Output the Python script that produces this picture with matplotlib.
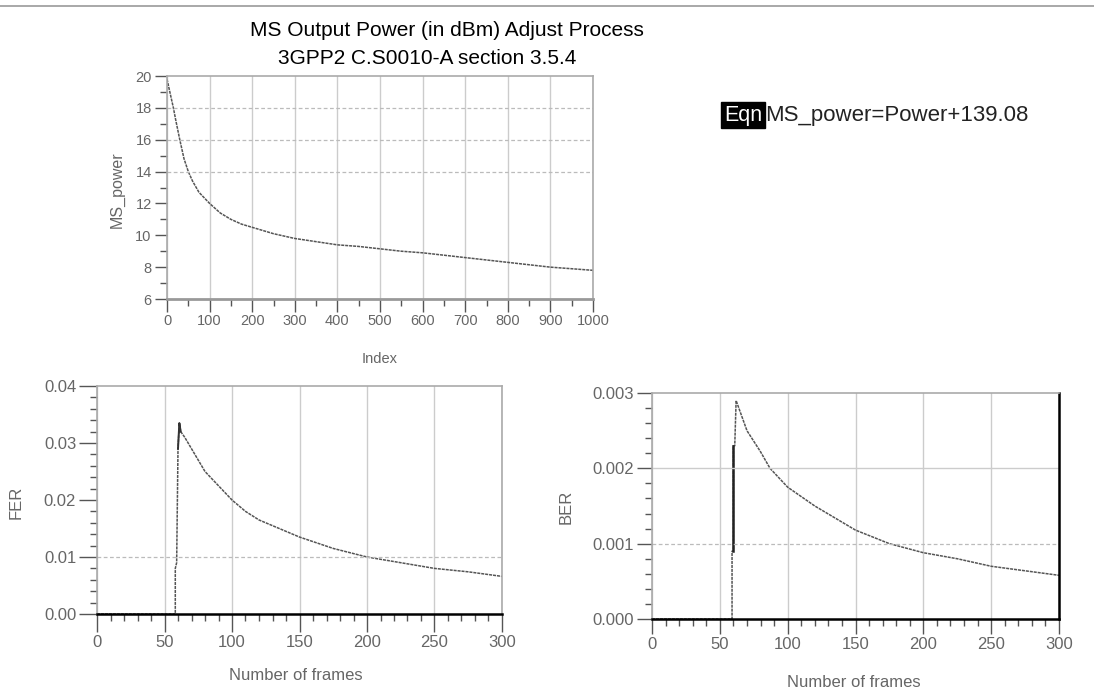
import numpy as np
import matplotlib
matplotlib.use("Agg")
import matplotlib.pyplot as plt
from matplotlib.ticker import MultipleLocator, FormatStrFormatter

plt.rcParams["font.family"] = ["Liberation Sans", "DejaVu Sans"]

# MS power vs index
idx = [0, 5, 10, 15, 20, 30, 40, 50, 60, 75, 100, 125, 150, 175, 200, 250, 300,
       350, 400, 450, 500, 550, 600, 650, 700, 750, 800, 850, 900, 950, 1000]
ms_power = [19.8, 19.2, 18.6, 18.0, 17.3, 16.0, 14.8, 14.0, 13.4, 12.7, 12.0, 11.4,
            11.0, 10.7, 10.5, 10.1, 9.8, 9.6, 9.4, 9.3, 9.15, 9.0, 8.9, 8.75, 8.6,
            8.45, 8.3, 8.15, 8.0, 7.9, 7.8]

# FER vs number of frames
fer_frames = [0, 58, 58, 59, 60, 61, 62, 65, 70, 80, 90, 100, 110, 120, 135,
              150, 175, 200, 225, 250, 275, 300]
fer = [0, 0, 0.008, 0.009, 0.029, 0.0335, 0.032, 0.031, 0.029, 0.025, 0.0225, 0.020,
       0.018, 0.0165, 0.015, 0.0135, 0.0115, 0.010, 0.009, 0.008, 0.0074, 0.0066]

# BER vs number of frames
ber_frames = [0, 59, 59, 60, 60, 61, 62, 70, 80, 87, 100, 120, 150, 175, 200,
              225, 250, 275, 300]
ber = [0, 0, 0.0009, 0.0009, 0.0023, 0.0023, 0.0029, 0.0025, 0.00222, 0.002,
       0.00175, 0.0015, 0.00118, 0.001, 0.00088, 0.0008, 0.0007, 0.00064, 0.00058]

W, H = 1094, 693
fig = plt.figure(figsize=(W / 100, H / 100), dpi=100)
fig.patch.set_facecolor("white")

TXT = "#666666"
LINE = "#555555"
DOTS = (0, (2, 0.6))


def box(l, t, r, b):
    return [l / W, 1 - b / H, (r - l) / W, (b - t) / H]


def fx(px):
    return px / W


def fy(py):
    return 1 - py / H


def style(ax, xmajor, xminor, yminor, size, tlen):
    for s in ax.spines.values():
        s.set_color("#aaaaaa")
        s.set_linewidth(1.2)
    ax.xaxis.set_major_locator(MultipleLocator(xmajor))
    ax.xaxis.set_minor_locator(MultipleLocator(xminor))
    ax.yaxis.set_minor_locator(MultipleLocator(yminor))
    ax.tick_params(axis="both", which="major", direction="out", length=tlen,
                   width=1.0, color="#555555", labelsize=size, labelcolor=TXT, pad=2)
    ax.tick_params(axis="both", which="minor", direction="out", length=5,
                   width=1.0, color="#555555")
    ax.grid(True, axis="x", color="#cccccc", linewidth=1.0)


# top chart
ax1 = fig.add_axes(box(167, 76, 593, 299))
ax1.plot(idx, ms_power, color=LINE, linewidth=1.1, linestyle=DOTS)
ax1.set_xlim(0, 1000)
ax1.set_ylim(6, 20)
ax1.yaxis.set_major_locator(MultipleLocator(2))
style(ax1, 100, 50, 1, 10.5, 9)
for y in [14, 16, 18]:
    ax1.axhline(y, color="#bbbbbb", linewidth=0.9, linestyle=(0, (3, 2)))
ax1.spines["bottom"].set_color("#999999")
ax1.spines["bottom"].set_linewidth(2)
ax1.set_xlabel("Index", color=TXT, fontsize=10.5)
ax1.set_ylabel("MS_power", color=TXT, fontsize=11.5)
ax1.xaxis.set_label_coords(fx(380), fy(352), transform=fig.transFigure)
ax1.yaxis.set_label_coords(fx(125), fy(190), transform=fig.transFigure)

fig.text(fx(447), fy(30), "MS Output Power (in dBm) Adjust Process",
         ha="center", va="center", fontsize=15)
fig.text(fx(427), fy(59), "3GPP2 C.S0010-A section 3.5.4",
         ha="center", va="center", fontsize=15)
fig.add_artist(plt.Line2D([0, 1], [fy(6), fy(6)], color="#999999",
                          linewidth=1.2, transform=fig.transFigure))

# equation label
fig.text(fx(724), fy(115), "Eqn", ha="left", va="center", fontsize=15.5,
         color="white",
         bbox=dict(boxstyle="square,pad=0.12", facecolor="black", edgecolor="black"))
fig.text(fx(765), fy(115), "MS_power=Power+139.08", ha="left", va="center",
         fontsize=16, color="#222222")

# FER
ax2 = fig.add_axes(box(97, 386, 502, 614))
ax2.plot(fer_frames, fer, color=LINE, linewidth=1.1, linestyle=DOTS)
ax2.plot(fer_frames[4:7], fer[4:7], color="#333333", linewidth=1.4)
ax2.set_xlim(0, 300)
ax2.set_ylim(0, 0.04)
ax2.yaxis.set_major_locator(MultipleLocator(0.01))
ax2.yaxis.set_major_formatter(FormatStrFormatter("%.2f"))
style(ax2, 50, 10, 0.002, 12, 13)
ax2.axhline(0.01, color="#bbbbbb", linewidth=0.9, linestyle=(0, (3, 2)))
ax2.spines["bottom"].set_color("black")
ax2.spines["bottom"].set_linewidth(1.8)
ax2.set_xlabel("Number of frames", color=TXT, fontsize=12)
ax2.set_ylabel("FER", color=TXT, fontsize=12)
ax2.xaxis.set_label_coords(fx(296), fy(668), transform=fig.transFigure)
ax2.yaxis.set_label_coords(fx(24), fy(502), transform=fig.transFigure)

# BER
ax3 = fig.add_axes(box(652, 393, 1059, 619))
ax3.plot(ber_frames, ber, color=LINE, linewidth=1.1, linestyle=DOTS)
ax3.plot(ber_frames[3:5], ber[3:5], color="#222222", linewidth=1.8)
ax3.set_xlim(0, 300)
ax3.set_ylim(0, 0.003)
ax3.yaxis.set_major_locator(MultipleLocator(0.001))
ax3.yaxis.set_major_formatter(FormatStrFormatter("%.3f"))
style(ax3, 50, 10, 0.0002, 12, 11)
ax3.axhline(0.002, color="#cccccc", linewidth=1.0)
ax3.axhline(0.001, color="#bbbbbb", linewidth=0.9, linestyle=(0, (3, 2)))
ax3.spines["bottom"].set_color("black")
ax3.spines["bottom"].set_linewidth(1.8)
ax3.spines["right"].set_color("black")
ax3.spines["right"].set_linewidth(1.8)
ax3.set_xlabel("Number of frames", color=TXT, fontsize=12)
ax3.set_ylabel("BER", color=TXT, fontsize=12)
ax3.xaxis.set_label_coords(fx(854), fy(675), transform=fig.transFigure)
ax3.yaxis.set_label_coords(fx(574), fy(507), transform=fig.transFigure)

plt.savefig("out.png", dpi=100)
